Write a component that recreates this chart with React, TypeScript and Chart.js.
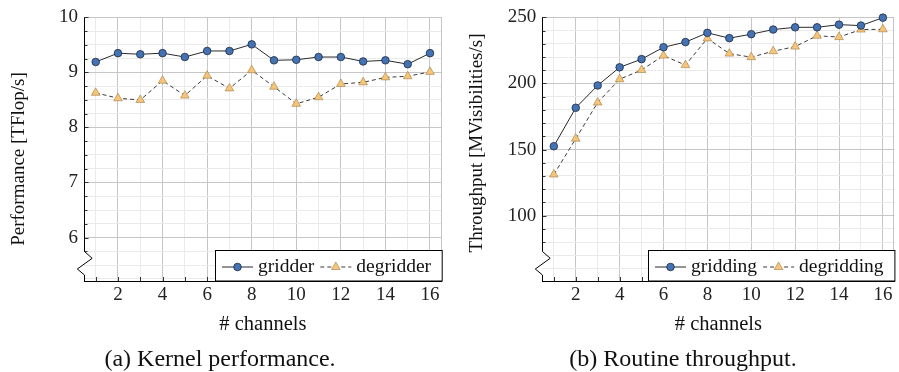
import React, { useEffect, useRef } from "react";
import { Chart, registerables } from "chart.js";

Chart.register(...registerables);

// ---------- data ----------
const channels = [1, 2, 3, 4, 5, 6, 7, 8, 9, 10, 11, 12, 13, 14, 15, 16];
const gridderPerf = [9.19, 9.35, 9.33, 9.35, 9.28, 9.39, 9.39, 9.51, 9.22, 9.23, 9.28, 9.28, 9.2, 9.22, 9.15, 9.35];
const degridderPerf = [8.63, 8.53, 8.5, 8.85, 8.58, 8.94, 8.71, 9.04, 8.74, 8.43, 8.55, 8.79, 8.82, 8.91, 8.93, 9.01];
const griddingThroughput = [152.5, 181.6, 198.5, 212.2, 218.4, 227.4, 231.3, 238.3, 234.3, 237.3, 240.8, 242.5, 242.5, 244.5, 243.8, 249.8];
const degriddingThroughput = [131.1, 158.2, 185.6, 203.2, 210.2, 221.1, 213.9, 234.1, 222.6, 219.9, 224.4, 227.9, 236.1, 235.1, 240.8, 241.0];
const xTickLabels = [2, 4, 6, 8, 10, 12, 14, 16];
const perfTickLabels = [6, 7, 8, 9, 10];
const throughputTickLabels = [100, 150, 200, 250];

const FONT = "'Liberation Serif', 'Times New Roman', serif";
const MAJOR_GRID = "#c6c6c6";
const MINOR_GRID = "#eaeaea";
const BLUE = "#4472b2";
const BLUE_EDGE = "#1c2b42";
const ORANGE = "#f6c578";
const ORANGE_EDGE = "#a07a45";
const CIRCLE_R = 3.8;
const TRI_R = 5;

type Spec = {
  width: number;
  xMin: number;
  xMax: number;
  yMin: number;
  yMax: number;
  yMajor: number[];
  yMinorStep: number;
  axisWidth: number;
  padRight: number;
  labels: [string, string];
  series: [number[], number[]];
  xTitle: string;
  yTitle: string;
  yTitleX: number;
  yTitleY: number;
  caption: string;
  captionX: number;
};

function drawMarker(ctx: CanvasRenderingContext2D, kind: string, x: number, y: number) {
  ctx.save();
  ctx.setLineDash([]);
  ctx.beginPath();
  if (kind === "circle") {
    ctx.arc(x, y, CIRCLE_R, 0, Math.PI * 2);
    ctx.fillStyle = BLUE;
    ctx.strokeStyle = BLUE_EDGE;
    ctx.lineWidth = 0.8;
  } else {
    const r = TRI_R;
    let rad = 0;
    ctx.moveTo(x + Math.sin(rad) * r, y - Math.cos(rad) * r);
    rad += (2 * Math.PI) / 3;
    ctx.lineTo(x + Math.sin(rad) * r, y - Math.cos(rad) * r);
    rad += (2 * Math.PI) / 3;
    ctx.lineTo(x + Math.sin(rad) * r, y - Math.cos(rad) * r);
    ctx.closePath();
    ctx.fillStyle = ORANGE;
    ctx.strokeStyle = ORANGE_EDGE;
    ctx.lineWidth = 0.6;
  }
  ctx.fill();
  ctx.stroke();
  ctx.restore();
}

const decorPlugin = {
  id: "decor",
  beforeDatasetsDraw(chart: any) {
    const { ctx, chartArea: a } = chart;
    ctx.save();
    ctx.strokeStyle = MAJOR_GRID;
    ctx.lineWidth = 1;
    ctx.beginPath();
    ctx.moveTo(Math.round(a.right) - 0.5, a.top);
    ctx.lineTo(Math.round(a.right) - 0.5, a.bottom);
    ctx.stroke();
    ctx.restore();
  },
  afterDraw(chart: any, _args: any, opts: any) {
    const { ctx, chartArea: a } = chart;
    const xs = chart.scales.x;
    const ys = chart.scales.y;
    const ax = Math.round(a.left) + 0.5;
    const breakTop = a.bottom - 29.5;
    ctx.save();
    // inward ticks
    ctx.strokeStyle = "#333";
    ctx.lineWidth = 1;
    ctx.beginPath();
    for (const t of xs.ticks) {
      const px = Math.round(xs.getPixelForValue(t.value)) + 0.5;
      ctx.moveTo(px, a.bottom);
      ctx.lineTo(px, a.bottom - 4);
    }
    for (const t of ys.ticks) {
      const py = Math.round(ys.getPixelForValue(t.value)) + 0.5;
      if (py > breakTop) continue;
      const len = opts.yMajor.includes(t.value) ? 4 : 3;
      ctx.moveTo(ax, py);
      ctx.lineTo(ax + len, py);
    }
    ctx.stroke();
    // y axis with break
    ctx.strokeStyle = "#000";
    ctx.beginPath();
    ctx.moveTo(ax, a.top);
    ctx.lineTo(ax, breakTop);
    ctx.lineTo(ax + 7.7, breakTop + 6.8);
    ctx.lineTo(ax - 7.2, breakTop + 17.5);
    ctx.lineTo(ax, breakTop + 23.5);
    ctx.lineTo(ax, a.bottom);
    ctx.stroke();

    // legend
    ctx.font = `19.5px ${FONT}`;
    const ds = chart.data.datasets;
    const padL = 6.5, sample = 31, gap = 5, itemGap = 6, padR = 11.5;
    const widths = ds.map((d: any) => ctx.measureText(d.label).width);
    let total = padL + padR + itemGap * (ds.length - 1);
    widths.forEach((w: number) => (total += sample + gap + w));
    const right = a.right + 0.5;
    const left = Math.round(right - total) + 0.5;
    const top = Math.round(a.bottom - 31) + 0.5;
    ctx.fillStyle = "#fff";
    ctx.fillRect(left, top, right - left, a.bottom - top);
    ctx.strokeStyle = "#000";
    ctx.strokeRect(left, top, right - left, a.bottom - top);
    const cy = top + 16.5;
    let x = left + padL;
    ds.forEach((d: any, i: number) => {
      ctx.save();
      ctx.strokeStyle = d.borderColor;
      ctx.lineWidth = d.borderWidth;
      ctx.setLineDash(d.borderDash || []);
      ctx.beginPath();
      ctx.moveTo(x, cy);
      ctx.lineTo(x + sample, cy);
      ctx.stroke();
      ctx.restore();
      drawMarker(ctx, d.pointStyle, x + sample / 2, cy);
      x += sample + gap;
      ctx.fillStyle = "#111";
      ctx.textBaseline = "middle";
      ctx.textAlign = "left";
      ctx.fillText(d.label, x, cy);
      x += widths[i] + itemGap;
    });

    // titles
    ctx.fillStyle = "#111";
    ctx.font = `20.5px ${FONT}`;
    ctx.textAlign = "center";
    ctx.textBaseline = "alphabetic";
    ctx.fillText(opts.xTitle, (a.left + a.right) / 2, 329.5);
    ctx.font = `19px ${FONT}`;
    ctx.save();
    ctx.translate(opts.yTitleX, opts.yTitleY);
    ctx.rotate(-Math.PI / 2);
    ctx.textBaseline = "middle";
    ctx.fillText(opts.yTitle, 0, 0);
    ctx.restore();
    ctx.font = `24px ${FONT}`;
    ctx.textBaseline = "alphabetic";
    ctx.fillText(opts.caption, opts.captionX, 365.5);
    ctx.restore();
  },
};

function buildConfig(spec: Spec): any {
  const [labA, labB] = spec.labels;
  const [serA, serB] = spec.series;
  return {
    type: "line",
    data: {
      datasets: [
        {
          label: labA,
          data: channels.map((c, i) => ({ x: c, y: serA[i] })),
          borderColor: "#2a2a2a",
          borderWidth: 1,
          pointStyle: "circle",
          pointRadius: CIRCLE_R,
          pointBackgroundColor: BLUE,
          pointBorderColor: BLUE_EDGE,
          pointBorderWidth: 0.8,
          clip: false,
        },
        {
          label: labB,
          data: channels.map((c, i) => ({ x: c, y: serB[i] })),
          borderColor: "#3a3a3a",
          borderWidth: 1,
          borderDash: [4, 3],
          pointStyle: "triangle",
          pointRadius: TRI_R,
          pointBackgroundColor: ORANGE,
          pointBorderColor: ORANGE_EDGE,
          pointBorderWidth: 0.6,
          clip: false,
        },
      ],
    },
    options: {
      animation: false,
      responsive: false,
      layout: { padding: { left: 0, right: spec.padRight, top: 12, bottom: 0 } },
      plugins: {
        legend: { display: false },
        tooltip: { enabled: false },
        decor: {
          yMajor: spec.yMajor,
          xTitle: spec.xTitle,
          yTitle: spec.yTitle,
          yTitleX: spec.yTitleX,
          yTitleY: spec.yTitleY,
          caption: spec.caption,
          captionX: spec.captionX,
        },
      },
      scales: {
        x: {
          type: "linear",
          min: spec.xMin,
          max: spec.xMax,
          afterBuildTicks: (s: any) => {
            s.ticks = channels.map((v) => ({ value: v }));
          },
          afterFit: (s: any) => {
            s.height = 372 - 281;
          },
          ticks: {
            autoSkip: false,
            maxRotation: 0,
            padding: 3,
            color: "#222",
            font: { family: FONT, size: 19 },
            callback: (v: any) => (xTickLabels.includes(v) ? String(v) : ""),
          },
          grid: {
            drawTicks: false,
            color: (c: any) => (c.tick && c.tick.value % 2 === 0 ? MAJOR_GRID : MINOR_GRID),
          },
          border: { display: true, color: "#000", width: 1 },
        },
        y: {
          type: "linear",
          min: spec.yMin,
          max: spec.yMax,
          afterBuildTicks: (s: any) => {
            const out: any[] = [];
            const step = spec.yMinorStep;
            for (let k = Math.ceil(spec.yMin / step); k * step <= spec.yMax + 1e-9; k++) {
              out.push({ value: Math.round(k * step * 1000) / 1000 });
            }
            s.ticks = out;
          },
          afterFit: (s: any) => {
            s.width = spec.axisWidth;
          },
          ticks: {
            autoSkip: false,
            padding: 6,
            color: "#222",
            font: { family: FONT, size: 19 },
            callback: (v: any) => (spec.yMajor.includes(v) ? String(v) : ""),
          },
          grid: {
            drawTicks: false,
            color: (c: any) => (c.tick && spec.yMajor.includes(c.tick.value) ? MAJOR_GRID : MINOR_GRID),
          },
          border: { display: false },
        },
      },
    },
    plugins: [decorPlugin],
  };
}

function Panel({ spec, left }: { spec: Spec; left: number }) {
  const ref = useRef<HTMLCanvasElement | null>(null);
  useEffect(() => {
    if (!ref.current) return;
    const chart = new Chart(ref.current, buildConfig(spec));
    return () => chart.destroy();
  }, [spec]);
  return (
    <div style={{ position: "absolute", left, top: 0, width: spec.width, height: 372 }}>
      <canvas ref={ref} width={spec.width} height={372} style={{ width: spec.width, height: 372, display: "block" }} />
    </div>
  );
}

const perfSpec: Spec = {
  width: 450,
  xMin: 0.475,
  xMax: 16.525,
  yMin: 5.21,
  yMax: 10,
  yMajor: perfTickLabels,
  yMinorStep: 0.25,
  axisWidth: 84,
  padRight: 8.3,
  labels: ["gridder", "degridder"],
  series: [gridderPerf, degridderPerf],
  xTitle: "# channels",
  yTitle: "Performance [TFlop/s]",
  yTitleX: 19,
  yTitleY: 159,
  caption: "(a) Kernel performance.",
  captionX: 220,
};

const throughputSpec: Spec = {
  width: 450,
  xMin: 0.475,
  xMax: 16.525,
  yMin: 50.5,
  yMax: 250,
  yMajor: throughputTickLabels,
  yMinorStep: 10,
  axisWidth: 92.3,
  padRight: 0,
  labels: ["gridding", "degridding"],
  series: [griddingThroughput, degriddingThroughput],
  xTitle: "# channels",
  yTitle: "Throughput [MVisibilities/s]",
  yTitleX: 27.5,
  yTitleY: 143,
  caption: "(b) Routine throughput.",
  captionX: 233,
};

export default function App() {
  return (
    <div style={{ position: "absolute", left: 0, top: 0, width: 899, height: 372, overflow: "hidden", background: "#fff" }}>
      <Panel spec={perfSpec} left={0} />
      <Panel spec={throughputSpec} left={450} />
    </div>
  );
}
